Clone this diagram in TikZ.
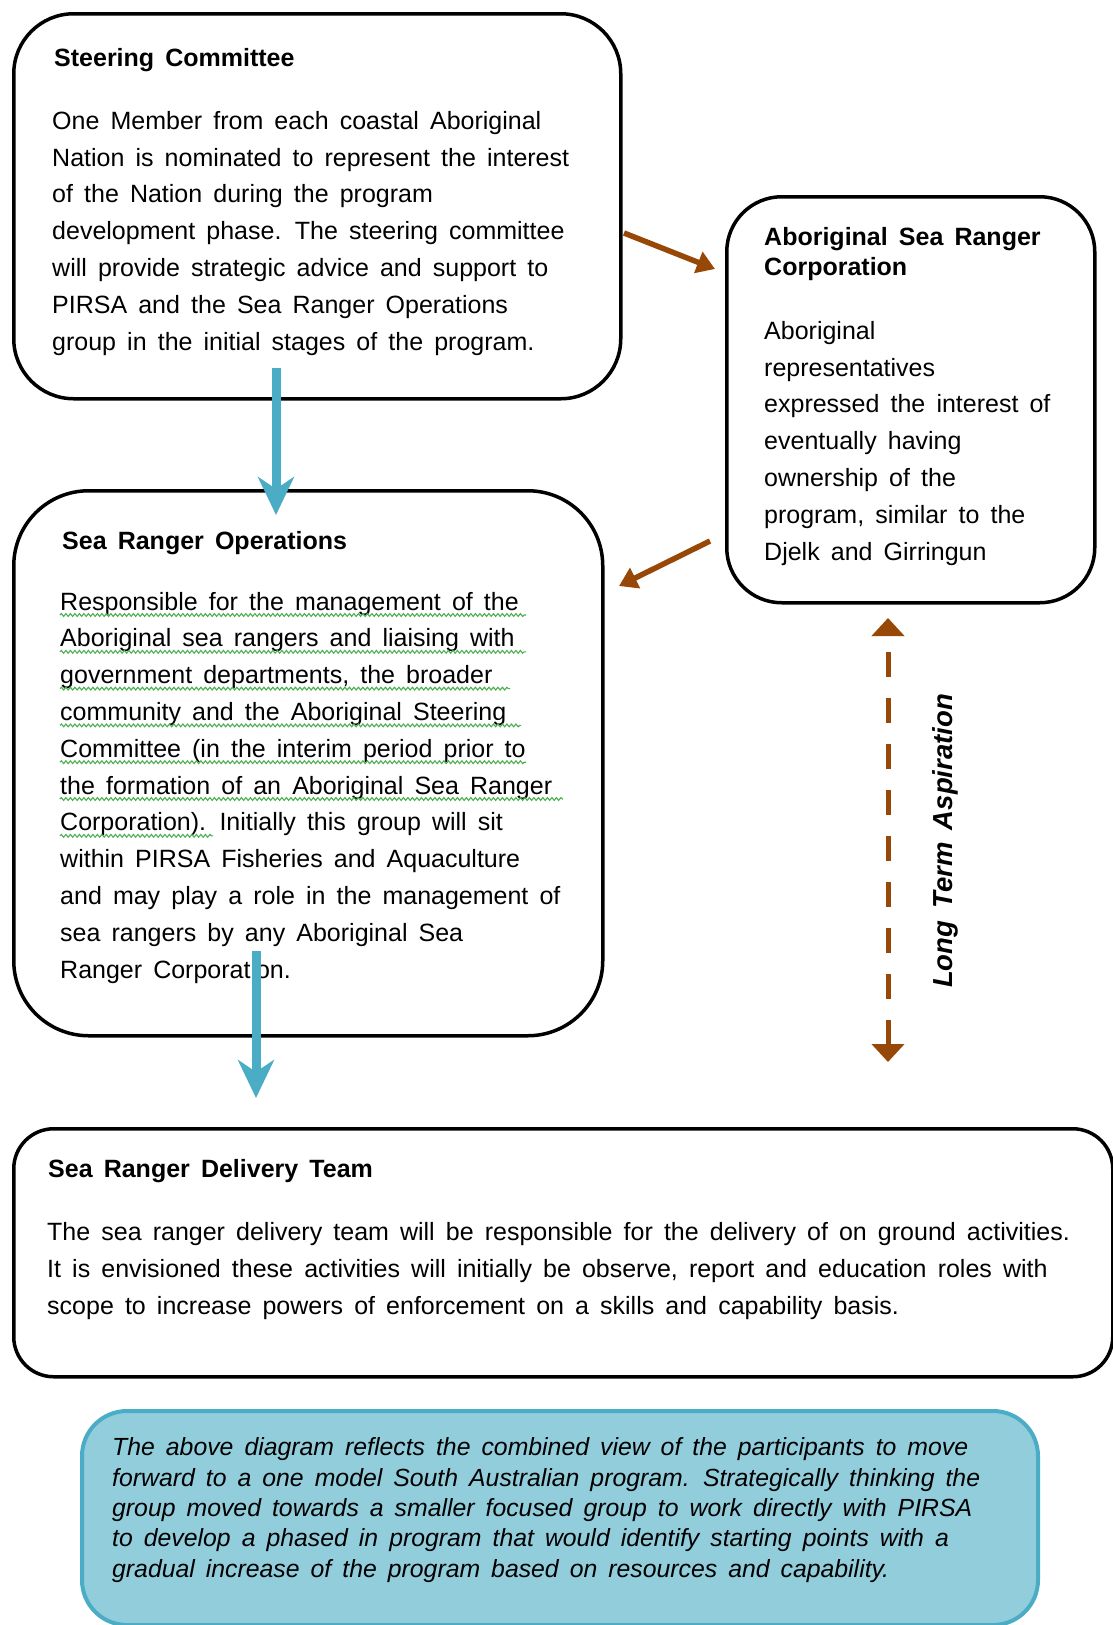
\documentclass[tikz,border=0pt]{standalone}
\usepackage{fontspec}
\setmainfont{Liberation Sans}[WordSpace=1.6]
\usepackage{xcolor}
\usetikzlibrary{positioning,arrows.meta,decorations.pathmorphing}

\definecolor{rangerbrown}{HTML}{974806}
\definecolor{rangerblue}{HTML}{4BACC6}
\definecolor{notefill}{HTML}{92CDDC}
\definecolor{squiggle}{HTML}{4CAF50}

\begin{document}
\begin{tikzpicture}[x=1pt, y=-1pt,
    box/.style={draw, line width=3.5pt, rounded corners=#1, inner sep=0pt, anchor=north west},
    heading/.style={font=\fontsize{25}{30}\selectfont\bfseries, anchor=base west, inner sep=0pt, align=left},
    bodytext/.style={font=\fontsize{25}{36.8}\selectfont, anchor=base west, inner sep=0pt, align=left},
    bluearrow/.style={rangerblue, line width=9pt, -{Stealth[length=38pt, width=36pt, inset=12pt]}},
    brownarrow/.style={rangerbrown, line width=5.5pt, -{Triangle[length=18pt, width=22pt]}},
    squiggly/.style={draw=squiggle, line width=1.1pt, decorate, decoration={snake, amplitude=1.4pt, segment length=4.5pt}}]
    \useasboundingbox (0,0) rectangle (1113,1625);

    % boxes
    \node [box=60, minimum width=607, minimum height=385] (steer) at (12,12) {};
    \node [box=55, minimum width=368, minimum height=406] (corp) at (725,195) {};
    \node [box=75, minimum width=589, minimum height=545] (ops) at (12,489) {};
    \node [box=40, minimum width=1099, minimum height=248] (deliv) at (12,1127) {};
    \node [box=45, draw=rangerblue, fill=notefill, line width=4pt, minimum width=956, minimum height=214] (note) at (80,1409) {};

    % steering committee (base = last line)
    \node [heading] (steerhead) at (54,66) {Steering Committee};
    \node [bodytext] (steerbody) at (52,350) {One Member from each coastal Aboriginal\\
        Nation is nominated to represent the interest\\
        of the Nation during the program\\
        development phase. The steering committee\\
        will provide strategic advice and support to\\
        PIRSA and the Sea Ranger Operations\\
        group in the initial stages of the program.};

    % corporation
    \node [heading] (corphead) at (764,275) {Aboriginal Sea Ranger\\Corporation};
    \node [bodytext] (corpbody) at (764,560) {Aboriginal\\
        representatives\\
        expressed the interest of\\
        eventually having\\
        ownership of the\\
        program, similar to the\\
        Djelk and Girringun};

    % operations
    \node [heading] (opshead) at (62,549) {Sea Ranger Operations};
    \node [bodytext] (opsbody) at (60,978) {Responsible for the management of the\\
        Aboriginal sea rangers and liaising with\\
        government departments, the broader\\
        community and the Aboriginal Steering\\
        Committee (in the interim period prior to\\
        the formation of an Aboriginal Sea Ranger\\
        Corporation). Initially this group will sit\\
        within PIRSA Fisheries and Aquaculture\\
        and may play a role in the management of\\
        sea rangers by any Aboriginal Sea\\
        Ranger Corporation.};
    \foreach \i/\xend in {0/526, 1/526, 2/510, 3/521, 4/526, 5/563, 6/213}
        \draw [squiggly] (60,{615+36.8*\i}) -- (\xend,{615+36.8*\i});

    % delivery team
    \node [heading] (delivhead) at (48,1177) {Sea Ranger Delivery Team};
    \node [bodytext] (delivbody) at (47,1314) {The sea ranger delivery team will be responsible for the delivery of on ground activities.\\
        It is envisioned these activities will initially be observe, report and education roles with\\
        scope to increase powers of enforcement on a skills and capability basis.};

    % note
    \node [font=\fontsize{24.8}{30.3}\selectfont\itshape, anchor=base west, inner sep=0pt, align=left] (notetext) at (112,1577) {The above diagram reflects the combined view of the participants to move\\
        forward to a one model South Australian program. Strategically thinking the\\
        group moved towards a smaller focused group to work directly with PIRSA\\
        to develop a phased in program that would identify starting points with a\\
        gradual increase of the program based on resources and capability.};

    % connectors
    \coordinate (steerout) at (276,368);
    \coordinate (opsin) at (276,515);
    \coordinate (opsout) at (256,951);
    \coordinate (delivin) at (256,1098);
    \coordinate (steerright) at (624,233);
    \coordinate (corpin) at (715,269);
    \coordinate (corpout) at (710,541);
    \coordinate (opsright) at (619,586);
    \coordinate (aspiretop) at (888,618);
    \coordinate (aspirebot) at (888,1062);

    \draw [bluearrow] (steerout) -- (opsin);
    \draw [bluearrow] (opsout) -- (delivin);
    \draw [brownarrow] (steerright) -- (corpin);
    \draw [brownarrow] (corpout) -- (opsright);
    \draw [rangerbrown, line width=5pt, dash pattern=on 25pt off 21pt,
        {Triangle[length=18pt, width=32pt]}-{Triangle[length=18pt, width=32pt]}] (aspirebot) -- (aspiretop);
    \node [rotate=90, font=\fontsize{27.5}{30}\selectfont\bfseries\itshape] (aspire) at (945,841) {Long Term Aspiration};
\end{tikzpicture}
\end{document}
